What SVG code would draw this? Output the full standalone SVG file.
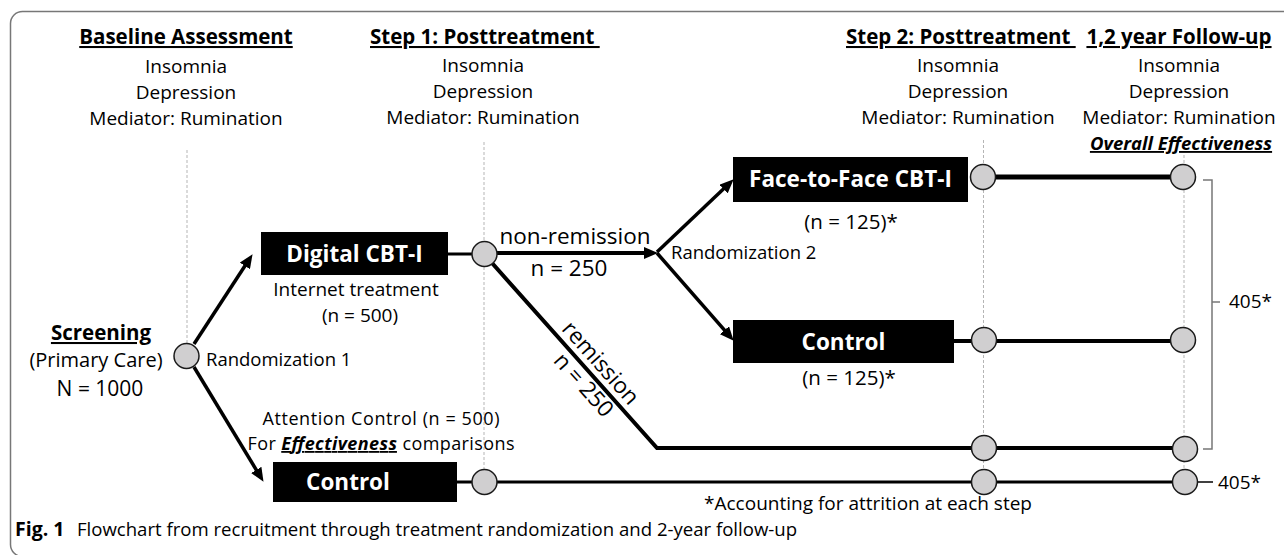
<svg xmlns="http://www.w3.org/2000/svg" width="1284" height="555" viewBox="0 0 1284 555">
<style>
text{font-family:"Open Sans","Liberation Sans",sans-serif;fill:#000}
.h{font-size:20.5px;font-weight:bold;text-decoration:underline}
.m{font-size:19px;text-anchor:middle}
.s{font-size:18.5px}
.b{font-size:22.5px;font-weight:bold;fill:#fff;text-anchor:middle}
.l{font-size:22.5px}
.dash{stroke:#b5b5b5;stroke-width:1;stroke-dasharray:3 2;fill:none}
.c{stroke:#000;fill:none;stroke-linejoin:miter}
.nd{fill:#d0cfd0;stroke:#1a1a1a;stroke-width:1.5}
.br{stroke:#777;stroke-width:1.5;fill:none}
</style>
<defs>
<marker id="ah" markerUnits="userSpaceOnUse" markerWidth="14" markerHeight="12" viewBox="0 0 14 12" refX="2" refY="6" orient="auto">
<path d="M0,0 L14,6 L0,12 Z" fill="#000"/>
</marker>
</defs>
<rect x="10.5" y="11.5" width="1290" height="545" rx="12" fill="#fff" stroke="#777" stroke-width="1.5"/>

<g id="headers">
<text class="h" x="186" y="44" text-anchor="middle">Baseline Assessment</text>
<text class="m" x="186" y="73">Insomnia</text>
<text class="m" x="186" y="99">Depression</text>
<text class="m" x="186" y="125">Mediator: Rumination</text>
<text class="h" x="370" y="44" xml:space="preserve">Step 1: Posttreatment </text>
<text class="m" x="483" y="72">Insomnia</text>
<text class="m" x="483" y="98">Depression</text>
<text class="m" x="483" y="124">Mediator: Rumination</text>
<text class="h" x="846" y="44" xml:space="preserve">Step 2: Posttreatment </text>
<text class="m" x="958" y="72">Insomnia</text>
<text class="m" x="958" y="98">Depression</text>
<text class="m" x="958" y="124">Mediator: Rumination</text>
<text class="h" x="1179" y="44" text-anchor="middle">1,2 year Follow-up</text>
<text class="m" x="1179" y="72">Insomnia</text>
<text class="m" x="1179" y="98">Depression</text>
<text class="m" x="1179" y="124">Mediator: Rumination</text>
<text class="h" x="1181" y="150" text-anchor="middle" font-style="italic" style="font-size:18.5px">Overall Effectiveness</text>
</g>

<g id="gridlines">
<line class="dash" x1="187" y1="150" x2="187" y2="344"/>
<line class="dash" x1="484" y1="142" x2="484" y2="472"/>
<line class="dash" x1="983.5" y1="140" x2="983.5" y2="472"/>
<line class="dash" x1="1184" y1="155" x2="1184" y2="472"/>
</g>

<g id="connectors">
<line class="c" stroke-width="3.5" x1="194" y1="344" x2="246" y2="264.2" marker-end="url(#ah)"/>
<line class="c" stroke-width="3.5" x1="194" y1="367" x2="257.3" y2="471.6" marker-end="url(#ah)"/>
<line class="c" stroke-width="3" x1="448" y1="254" x2="484" y2="254"/>
<line class="c" stroke-width="4" x1="484" y1="253" x2="646" y2="253" marker-end="url(#ah)"/>
<line class="c" stroke-width="3.5" x1="657" y1="252" x2="725" y2="187.6" marker-end="url(#ah)"/>
<line class="c" stroke-width="3.5" x1="657" y1="253" x2="725.8" y2="331.7" marker-end="url(#ah)"/>
<polyline class="c" stroke-width="4" points="484,254 657,448 1185,448"/>
<line class="c" stroke-width="5" x1="983" y1="177" x2="1183" y2="177"/>
<line class="c" stroke-width="4" x1="954" y1="341" x2="1183" y2="341"/>
<line class="c" stroke-width="3" x1="457" y1="482" x2="1185" y2="482"/>
<line class="c" stroke-width="1.5" x1="1198" y1="482" x2="1213" y2="482"/>
<polyline class="br" points="1203,180 1212,180 1212,449 1203,449"/>
<line class="br" x1="1212" y1="302" x2="1220" y2="302"/>
</g>

<g id="screening">
<text x="101" y="340" font-size="20.5" font-weight="bold" text-decoration="underline" text-anchor="middle">Screening</text>
<text class="m" x="96" y="367" style="font-size:20px">(Primary Care)</text>
<text class="m" x="100" y="396" style="font-size:21px">N = 1000</text>
</g>
<g id="randomization1">
<circle class="nd" cx="186.5" cy="356" r="12.5"/>
<text class="s" x="206" y="366">Randomization 1</text>
</g>
<g id="digital-cbti">
<rect x="261" y="232" width="187" height="43" fill="#000"/>
<text class="b" x="354.5" y="262">Digital CBT-I</text>
<text class="m" x="356" y="296">Internet treatment</text>
<text class="m" x="360" y="322">(n = 500)</text>
</g>
<g id="step1-digital">
<circle class="nd" cx="484.5" cy="254" r="12.5"/>
</g>
<g id="nonremission-label">
<text class="l" x="575" y="244" text-anchor="middle">non-remission</text>
<text class="l" x="569" y="276" text-anchor="middle">n = 250</text>
</g>
<g id="remission-label">
<text class="l" text-anchor="middle" transform="translate(595,368) rotate(48.3)">remission</text>
<text class="l" text-anchor="middle" transform="translate(578,390) rotate(48.3)">n = 250</text>
</g>
<g id="randomization2">
<text class="s" x="671" y="259">Randomization 2</text>
</g>
<g id="face-to-face">
<rect x="733" y="157" width="235" height="45" fill="#000"/>
<text class="b" x="850.5" y="187">Face-to-Face CBT-I</text>
<text class="m" x="851" y="229" style="font-size:20.5px">(n = 125)*</text>
</g>
<g id="control-step2">
<rect x="733" y="320" width="221" height="43" fill="#000"/>
<text class="b" x="843.5" y="350">Control</text>
<text class="m" x="849" y="385" style="font-size:20.5px">(n = 125)*</text>
</g>
<g id="attention-control">
<text class="m" x="381" y="425" style="font-size:18px" textLength="237">Attention Control (n = 500)</text>
<text class="m" x="381" y="450" style="font-size:18px" textLength="267">For <tspan font-weight="bold" font-style="italic" text-decoration="underline">Effectiveness</tspan> comparisons</text>
<rect x="273" y="462" width="184" height="40" fill="#000"/>
<text class="b" x="348" y="490">Control</text>
</g>
<g id="step1-control"><circle class="nd" cx="484.5" cy="482" r="12.5"/></g>
<g id="step2-f2f"><circle class="nd" cx="983" cy="177" r="12.5"/></g>
<g id="step2-control"><circle class="nd" cx="984" cy="340" r="12.5"/></g>
<g id="step2-remission"><circle class="nd" cx="984" cy="448" r="12.5"/></g>
<g id="step2-attention"><circle class="nd" cx="984" cy="482" r="12.5"/></g>
<g id="fu-f2f"><circle class="nd" cx="1183" cy="177" r="12.5"/></g>
<g id="fu-control"><circle class="nd" cx="1183" cy="340" r="12.5"/></g>
<g id="fu-remission"><circle class="nd" cx="1185" cy="449" r="12.5"/></g>
<g id="fu-attention"><circle class="nd" cx="1185" cy="482" r="12.5"/></g>
<g id="totals">
<text class="s" x="1229" y="308" style="font-size:19px">405*</text>
<text class="s" x="1218" y="489" style="font-size:19px">405*</text>
</g>
<g id="notes">
<text class="m" x="868" y="510">*Accounting for attrition at each step</text>
<text x="15" y="536" font-size="19.5" font-weight="bold" fill="#1a1a1a">Fig. 1</text>
<text x="77" y="536" font-size="17.5" fill="#333" textLength="720" lengthAdjust="spacingAndGlyphs">Flowchart from recruitment through treatment randomization and 2-year follow-up</text>
</g>
</svg>
